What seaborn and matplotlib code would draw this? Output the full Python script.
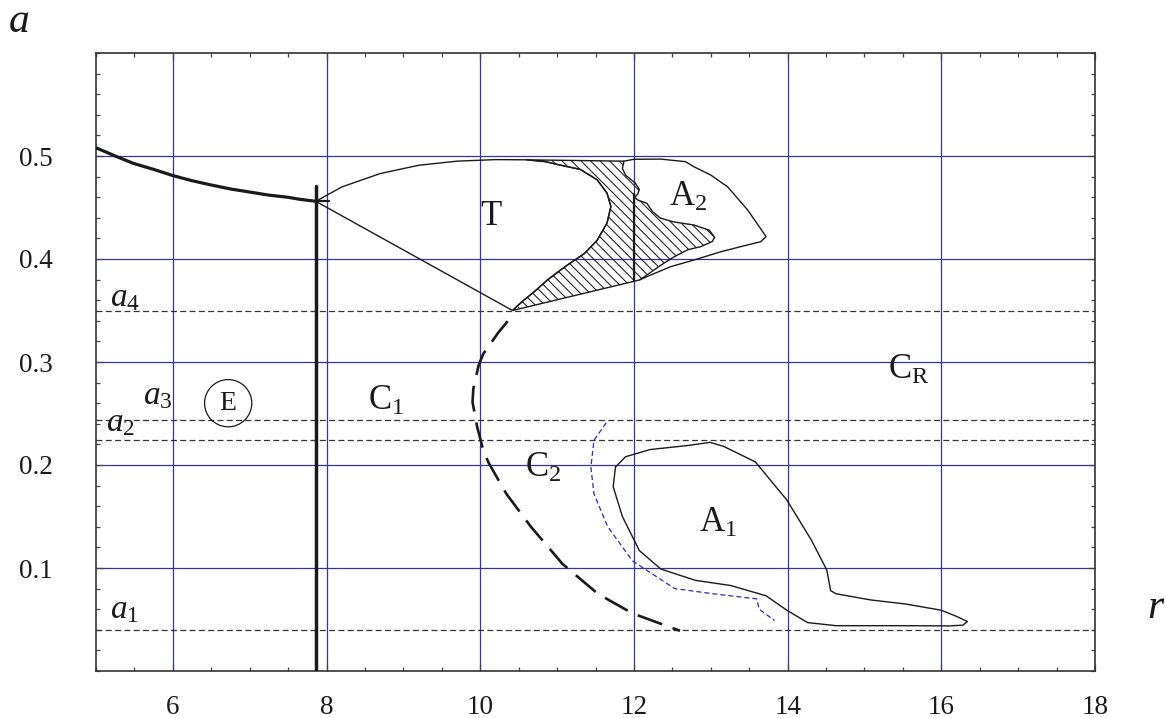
import numpy as np
import matplotlib
matplotlib.use("Agg")
import matplotlib.pyplot as plt
from matplotlib.patches import Polygon
from matplotlib.ticker import MultipleLocator
import seaborn as sns

# ---- data -------------------------------------------------------------
# thick boundary of region E (left branch ending at the cusp)
E_R = [5.00, 5.25, 5.48, 5.75, 6.00, 6.25, 6.49, 6.75, 7.00, 7.25, 7.49, 7.65, 7.86]
E_A = [0.508, 0.500, 0.493, 0.487, 0.481, 0.476, 0.472, 0.468, 0.465, 0.462, 0.460, 0.458, 0.456]
STUB_R = [7.86, 8.03]
STUB_A = [0.456, 0.456]

# vertical bifurcation line
V_R = [7.86, 7.86]
V_A = [0.0, 0.471]

# outline of region T: cusp -> upper arc -> right lobe -> lower tip
T_R = [7.86, 8.20, 8.70, 9.20, 9.70, 10.20, 10.60, 10.85, 11.05, 11.30, 11.52,
       11.65, 11.70, 11.65, 11.52, 11.35, 11.17, 11.04, 10.88, 10.70, 10.55, 10.42]
T_A = [0.456, 0.470, 0.483, 0.491, 0.495, 0.4965, 0.4963, 0.4945, 0.491, 0.487, 0.477,
       0.464, 0.451, 0.435, 0.418, 0.405, 0.396, 0.389, 0.380, 0.368, 0.359, 0.350]

# inner (wavy) edge of A2, from top-left down to the lower junction
A2_IN_R = [11.87, 11.85, 11.89, 12.02, 12.07, 12.05, 12.01, 12.05, 12.17, 12.24, 12.35,
           12.52, 12.78, 12.98, 13.05, 13.02, 12.87, 12.70, 12.52, 12.35, 12.17, 12.07]
A2_IN_A = [0.4950, 0.488, 0.4815, 0.4735, 0.4676, 0.463, 0.460, 0.4573, 0.454, 0.446, 0.4395,
           0.436, 0.433, 0.428, 0.421, 0.417, 0.412, 0.409, 0.402, 0.394, 0.3845, 0.3796]

# outer edge of A2
A2_OUT_R = [11.87, 12.00, 12.35, 12.67, 12.78, 13.00, 13.22, 13.48, 13.72,
            13.65, 13.39, 13.13, 12.78, 12.48, 12.22, 12.07]
A2_OUT_A = [0.4950, 0.4968, 0.4970, 0.4945, 0.4896, 0.4815, 0.470, 0.4476, 0.4217,
            0.4168, 0.412, 0.407, 0.399, 0.3926, 0.3845, 0.3796]

# segment of r = 12 inside the hatched band
R12_R = [12.0, 12.0]
R12_A = [0.379, 0.463]

# closed contour of A1
A1_R = [11.76, 11.89, 12.21, 12.71, 12.99, 13.17, 13.58, 13.99, 14.31, 14.51, 14.56,
        14.63, 15.08, 15.54, 16.00, 16.20, 16.34, 16.28, 16.10, 15.54, 14.63, 14.26,
        13.99, 13.72, 13.26, 12.80, 12.35, 12.07, 11.85, 11.73, 11.76]
A1_A = [0.198, 0.208, 0.215, 0.219, 0.222, 0.218, 0.203, 0.166, 0.127, 0.098, 0.078,
        0.075, 0.069, 0.065, 0.059, 0.053, 0.048, 0.0445, 0.0438, 0.044, 0.044, 0.047,
        0.059, 0.073, 0.083, 0.088, 0.099, 0.117, 0.150, 0.179, 0.198]

# curve C2 (thick dashed)
C2_R = [10.40, 10.35, 10.24, 10.04, 9.98, 9.91, 9.90, 9.96, 10.00, 10.04, 10.11,
        10.34, 10.66, 11.07, 11.53, 11.98, 12.60]
C2_A = [0.350, 0.339, 0.329, 0.308, 0.297, 0.274, 0.261, 0.237, 0.2256, 0.214, 0.202,
        0.172, 0.140, 0.104, 0.075, 0.056, 0.039]

# blue dashed curve
BLUE_R = [11.64, 11.48, 11.44, 11.48, 11.66, 11.98, 12.53, 13.03, 13.60, 13.63, 13.83]
BLUE_A = [0.241, 0.224, 0.198, 0.172, 0.140, 0.107, 0.080, 0.075, 0.070, 0.060, 0.049]

# reference levels a1..a4
LEVELS = [0.040, 0.224, 0.244, 0.350]

X_TICKS = [6, 8, 10, 12, 14, 16, 18]
Y_TICKS = [0.1, 0.2, 0.3, 0.4, 0.5]

# region labels
LABELS = [
    (r"$\mathrm{T}$", 10.14, 0.441),
    (r"$\mathrm{A}_2$", 12.70, 0.460),
    (r"$\mathrm{A}_1$", 13.10, 0.143),
    (r"$\mathrm{C}_1$", 8.78, 0.262),
    (r"$\mathrm{C}_2$", 10.82, 0.197),
    (r"$\mathrm{C}_\mathrm{R}$", 15.58, 0.292),
]
LEVEL_LABELS = [
    (r"$a_4$", 5.38, 0.362),
    (r"$a_3$", 5.80, 0.267),
    (r"$a_2$", 5.32, 0.241),
    (r"$a_1$", 5.37, 0.059),
]

# ---- style --------------------------------------------------------------
sns.set_theme(style="ticks")
plt.rcParams["font.family"] = ["Liberation Serif", "DejaVu Serif"]
plt.rcParams["mathtext.fontset"] = "custom"
plt.rcParams["mathtext.rm"] = "Liberation Serif"
plt.rcParams["mathtext.it"] = "Liberation Serif:italic"
plt.rcParams["lines.scale_dashes"] = False

GRID_BLUE = "#3434a0"
INK = "#1a1a1a"

W, H = 1166, 718
fig = plt.figure(figsize=(W / 100, H / 100), dpi=100)
fig.patch.set_facecolor("white")
ax = fig.add_axes([96 / W, 1 - 671 / H, (1095 - 96) / W, (671 - 53) / H])
ax.set_facecolor("white")
ax.set_xlim(5, 18)
ax.set_ylim(0, 0.6)

ax.set_xticks(X_TICKS)
ax.set_yticks(Y_TICKS)
ax.set_xticklabels([str(v) for v in X_TICKS])
ax.set_yticklabels([f"{v:.1f}" for v in Y_TICKS])
ax.xaxis.set_minor_locator(MultipleLocator(0.5))
ax.yaxis.set_minor_locator(MultipleLocator(0.02))
ax.grid(True, which="major", color=GRID_BLUE, lw=0.9)
ax.set_axisbelow(True)
ax.tick_params(which="both", direction="in", top=True, right=True,
               color="#444444", width=0.9)
ax.tick_params(which="major", length=5)
ax.tick_params(which="minor", length=2.6)
ax.tick_params(axis="x", which="major", labelsize=19.5, pad=17, labelcolor=INK)
ax.tick_params(axis="y", which="major", labelsize=19.5, pad=31, labelcolor=INK)
for s in ax.spines.values():
    s.set_color("#333333")
    s.set_linewidth(1.2)

# reference levels
for lv in LEVELS:
    ax.axhline(lv, color="#333333", lw=0.9, ls=(0, (4.3, 2.4)), zorder=2)

# ---- hatched band between T and A2 ---------------------------------------
band_r = T_R[6:] + A2_IN_R[::-1]
band_a = T_A[6:] + A2_IN_A[::-1]
band = Polygon(np.column_stack([band_r, band_a]), closed=True, fill=False,
               edgecolor=INK, lw=1.0, zorder=4)
ax.add_patch(band)

pos = ax.get_position()
px_r = pos.width * W / (18 - 5)
px_a = pos.height * H / 0.6
slope = -px_r / px_a            # 45 degree "\" lines on screen
step = 9.5 / px_a               # spacing of 9.5 px along the horizontal
r_lo, r_hi = min(band_r) - 0.2, max(band_r) + 0.2
c_lo = min(band_a) - slope * r_lo - 0.05
c_hi = max(band_a) - slope * r_hi + 0.05
clip = Polygon(np.column_stack([band_r, band_a]), closed=True, fill=False,
               edgecolor="none", transform=ax.transData)
ax.add_patch(clip)
for c in np.arange(min(c_lo, c_hi), max(c_lo, c_hi), step):
    ln, = ax.plot([r_lo, r_hi], [c + slope * r_lo, c + slope * r_hi],
                  color=INK, lw=0.75, zorder=3)
    ln.set_clip_path(clip)

# ---- curves --------------------------------------------------------------
def curve(xs, ys, **kw):
    sns.lineplot(x=xs, y=ys, ax=ax, sort=False, estimator=None, **kw)

curve(E_R, E_A, color=INK, lw=2.3, zorder=5)
curve(STUB_R, STUB_A, color=INK, lw=1.6, zorder=5)
curve(V_R, V_A, color=INK, lw=2.5, zorder=5)

t_closed_r = T_R + [T_R[0]]
t_closed_a = T_A + [T_A[0]]
curve(t_closed_r, t_closed_a, color=INK, lw=1.0, zorder=5)
curve(A2_OUT_R, A2_OUT_A, color=INK, lw=1.0, zorder=5)
curve(R12_R, R12_A, color=INK, lw=1.6, zorder=5)
curve(A1_R, A1_A, color=INK, lw=1.0, zorder=5)
curve(C2_R, C2_A, color=INK, lw=1.9, linestyle=(18.7, (18.7, 8.0)),
      zorder=5)
curve(BLUE_R, BLUE_A, color="#2b2bb0", lw=0.9, linestyle=(0, (3.6, 2.2)),
      zorder=5)

# ---- labels ----------------------------------------------------------------
for txt, x, y in LABELS:
    ax.text(x, y, txt, fontsize=25, ha="center", va="center", color=INK,
            zorder=6)
for txt, x, y in LEVEL_LABELS:
    ax.text(x, y, txt, fontsize=24, ha="center", va="center", color=INK,
            zorder=6)
ax.text(6.72, 0.260, "E", fontsize=20, ha="center", va="center", color=INK,
        zorder=6,
        bbox=dict(boxstyle="circle,pad=0.4", fc="none", ec=INK, lw=0.9))

fig.text(19 / W, 1 - 22 / H, "a", fontsize=30, style="italic",
         ha="center", va="center", color=INK)
fig.text(1155 / W, 1 - 608 / H, "r", fontsize=30, style="italic",
         ha="center", va="center", color=INK)

fig.savefig("out.png", dpi=100, facecolor="white")
